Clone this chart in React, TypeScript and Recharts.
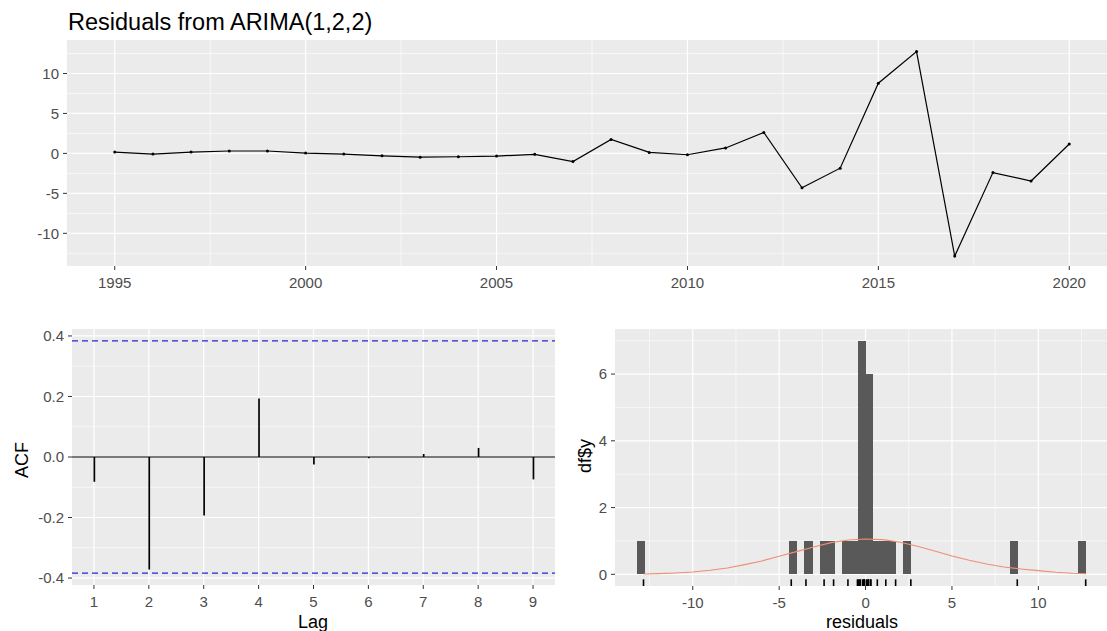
import {
  LineChart,
  ComposedChart,
  Line,
  Bar,
  XAxis,
  YAxis,
  CartesianGrid,
  ReferenceLine,
  ReferenceArea,
} from 'recharts'

// residual series, one value per year
const years = [
  1995, 1996, 1997, 1998, 1999, 2000, 2001, 2002, 2003, 2004, 2005, 2006, 2007,
  2008, 2009, 2010, 2011, 2012, 2013, 2014, 2015, 2016, 2017, 2018, 2019, 2020,
]
const residuals = [
  0.17, -0.08, 0.17, 0.3, 0.3, 0.04, -0.08, -0.3, -0.47, -0.42, -0.33, -0.12, -1.02,
  1.74, 0.12, -0.17, 0.68, 2.62, -4.3, -1.85, 8.78, 12.74, -12.85, -2.4, -3.45, 1.17,
]

// autocorrelations of the residuals
const lags = [1, 2, 3, 4, 5, 6, 7, 8, 9]
const acfValues = [-0.082, -0.372, -0.193, 0.193, -0.025, -0.004, 0.01, 0.03, -0.074]
const acfBound = 0.384

// histogram of residuals
const binWidth = 0.44
const binStarts = [-13.2, -4.4, -3.52, -2.64, -2.2, -1.32, -0.88, -0.44, 0, 0.44, 0.88, 1.32, 2.2, 8.36, 12.32]
const binCounts = [1, 1, 1, 1, 1, 1, 1, 7, 6, 1, 1, 1, 1, 1, 1]

// normal curve overlaid on the histogram
const normalX = [-12.85, -12, -11, -10, -9, -8, -7, -6, -5, -4, -3, -2, -1, 0, 1, 2, 3, 4, 5, 6, 7, 8, 9, 10, 11, 12, 12.74]
const normalY = [0.01, 0.02, 0.04, 0.07, 0.12, 0.19, 0.29, 0.4, 0.54, 0.68, 0.82, 0.95, 1.03, 1.06, 1.04, 0.96, 0.84, 0.7, 0.55, 0.42, 0.31, 0.22, 0.16, 0.11, 0.06, 0.03, 0.02]

// axis ticks
const yearTicks = [1995, 2000, 2005, 2010, 2015, 2020]
const yearMinor = [1997.5, 2002.5, 2007.5, 2012.5, 2017.5]
const residTicks = [-10, -5, 0, 5, 10]
const residMinor = [-12.5, -7.5, -2.5, 2.5, 7.5, 12.5]
const acfTicks = [-0.4, -0.2, 0, 0.2, 0.4]
const acfMinor = [-0.3, -0.1, 0.1, 0.3]
const countTicks = [0, 2, 4, 6]
const countMinor = [1, 3, 5, 7]

const FONT = "'Liberation Sans', Arial, sans-serif"
const PANEL = '#EBEBEB'
const BAR = '#595959'
const tick = { fill: '#4D4D4D', fontSize: 15, fontFamily: FONT }
const tickLine = { stroke: '#333333' }

const topData = years.map((year, i) => ({ year, residual: residuals[i] }))
const acfData = lags.map((lag, i) => ({ lag, acf: acfValues[i] }))
const normalData = normalX.map((x, i) => ({ x, y: normalY[i] }))

const axisTitle: React.CSSProperties = {
  position: 'absolute',
  fontFamily: FONT,
  fontSize: 18,
  color: '#000',
  whiteSpace: 'nowrap',
  lineHeight: 1,
  transform: 'translate(-50%, -50%)',
}

// histogram bin drawn with crisp edges so neighbouring bins join without seams
function BinRect(props: { x?: number; y?: number; width?: number; height?: number }) {
  const { x = 0, y = 0, width = 0, height = 0 } = props
  return (
    <rect
      x={x - 0.3}
      y={y}
      width={width + 0.6}
      height={height}
      fill={BAR}
      shapeRendering="crispEdges"
    />
  )
}

export default function App() {
  return (
    <div
      style={{
        position: 'absolute',
        left: 0,
        top: 0,
        width: 1107,
        height: 631,
        overflow: 'hidden',
        background: '#fff',
      }}
    >
      <div
        style={{
          position: 'absolute',
          left: 68,
          top: 10.5,
          fontFamily: FONT,
          fontSize: 23.5,
          lineHeight: 1,
          color: '#000',
          whiteSpace: 'nowrap',
        }}
      >
        Residuals from ARIMA(1,2,2)
      </div>

      {/* residuals over time */}
      <div style={{ position: 'absolute', left: 0, top: 0 }}>
        <LineChart width={1120} height={300} data={topData} margin={{ top: 40, right: 3, bottom: 4, left: 0 }}>
          <CartesianGrid fill={PANEL} stroke="#fff" strokeWidth={0.6} horizontalValues={residMinor} verticalValues={yearMinor} />
          <CartesianGrid stroke="#fff" strokeWidth={1.2} horizontalValues={residTicks} verticalValues={yearTicks} />
          <XAxis
            dataKey="year"
            type="number"
            domain={[1993.75, 2021.25]}
            ticks={yearTicks}
            axisLine={false}
            tickLine={tickLine}
            tickSize={4}
            tickMargin={7}
            height={30}
            tick={tick}
          />
          <YAxis
            type="number"
            domain={[-14.09, 14.19]}
            ticks={residTicks}
            axisLine={false}
            tickLine={tickLine}
            tickSize={4}
            tickMargin={4}
            width={67}
            tick={tick}
          />
          <Line
            dataKey="residual"
            type="linear"
            stroke="#000"
            strokeWidth={1.2}
            dot={{ r: 1.5, fill: '#000', stroke: '#000', strokeWidth: 0 }}
            isAnimationActive={false}
          />
        </LineChart>
      </div>

      {/* ACF panel */}
      <div style={{ position: 'absolute', left: 0, top: 300 }}>
        <ComposedChart width={560} height={331} data={acfData} margin={{ top: 29, right: 5, bottom: 20, left: 0 }}>
          <CartesianGrid fill={PANEL} stroke="#fff" strokeWidth={0.6} horizontalValues={acfMinor} vertical={false} />
          <CartesianGrid stroke="#fff" strokeWidth={1.2} horizontalValues={acfTicks} verticalValues={lags} />
          <XAxis
            dataKey="lag"
            type="number"
            domain={[0.6, 9.4]}
            ticks={lags}
            axisLine={false}
            tickLine={tickLine}
            tickSize={4}
            tickMargin={7}
            height={26}
            tick={tick}
          />
          <YAxis
            type="number"
            domain={[-0.423, 0.423]}
            ticks={acfTicks}
            tickFormatter={(v: number) => v.toFixed(1)}
            axisLine={false}
            tickLine={tickLine}
            tickSize={4}
            tickMargin={4}
            width={72}
            tick={tick}
          />
          <ReferenceLine y={acfBound} stroke="#2626D6" strokeWidth={1.2} strokeDasharray="6 4" />
          <ReferenceLine y={-acfBound} stroke="#2626D6" strokeWidth={1.2} strokeDasharray="6 4" />
          <ReferenceLine y={0} stroke="#000" strokeWidth={1.1} />
          <Bar dataKey="acf" fill="#000" barSize={1.7} isAnimationActive={false} />
        </ComposedChart>
      </div>
      <div style={{ ...axisTitle, left: 22, top: 460, transform: 'translate(-50%, -50%) rotate(-90deg)' }}>ACF</div>
      <div style={{ ...axisTitle, left: 313, top: 622 }}>Lag</div>

      {/* histogram panel */}
      <div style={{ position: 'absolute', left: 560, top: 300 }}>
        <ComposedChart width={560} height={331} data={normalData} margin={{ top: 29, right: 12, bottom: 19, left: 0 }}>
          <CartesianGrid fill={PANEL} stroke="#fff" strokeWidth={0.6} horizontalValues={countMinor} verticalValues={residMinor} />
          <CartesianGrid stroke="#fff" strokeWidth={1.2} horizontalValues={countTicks} verticalValues={residTicks} />
          <XAxis
            dataKey="x"
            type="number"
            domain={[-14.5, 14.03]}
            ticks={residTicks}
            axisLine={false}
            tickLine={tickLine}
            tickSize={4}
            tickMargin={7}
            height={26}
            tick={tick}
          />
          <YAxis
            type="number"
            domain={[-0.35, 7.35]}
            ticks={countTicks}
            axisLine={false}
            tickLine={tickLine}
            tickSize={4}
            tickMargin={4}
            width={55}
            tick={tick}
          />
          {binStarts.map((start, i) => (
            <ReferenceArea
              key={`bin-${i}`}
              x1={start}
              x2={start + binWidth}
              y1={0}
              y2={binCounts[i]}
              shape={BinRect}
              ifOverflow="visible"
            />
          ))}
          {residuals.map((r, i) => (
            <ReferenceLine
              key={`rug-${i}`}
              segment={[{ x: r, y: -0.35 }, { x: r, y: -0.15 }]}
              stroke="#000"
              strokeWidth={1.6}
              ifOverflow="visible"
            />
          ))}
          <Line dataKey="y" type="linear" stroke="#EE8E72" strokeWidth={1.1} dot={false} isAnimationActive={false} />
        </ComposedChart>
      </div>
      <div style={{ ...axisTitle, left: 585, top: 456, transform: 'translate(-50%, -50%) rotate(-90deg)' }}>df$y</div>
      <div style={{ ...axisTitle, left: 862, top: 622 }}>residuals</div>
    </div>
  )
}
